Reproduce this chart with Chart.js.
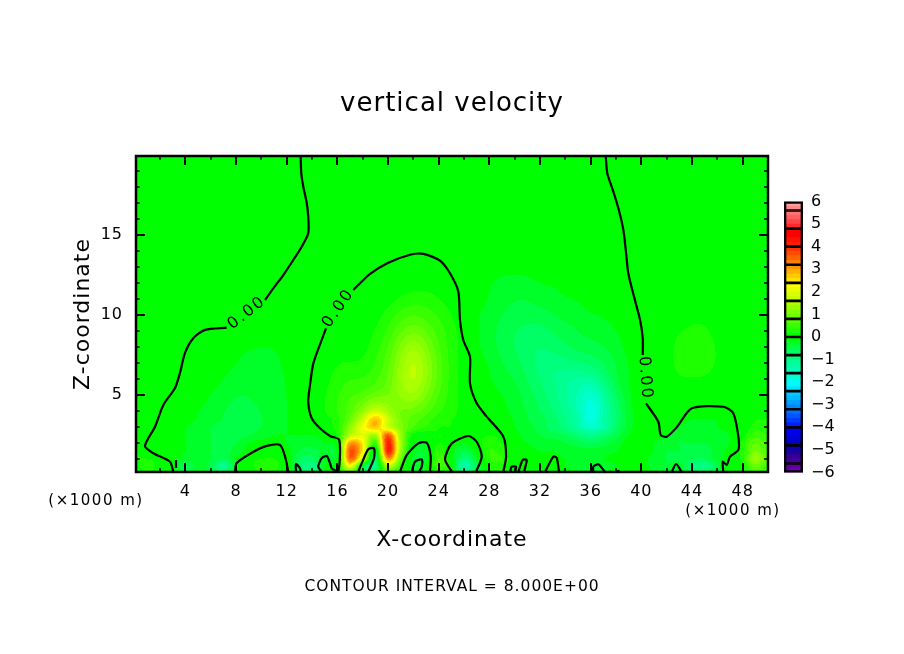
<!DOCTYPE html>
<html>
<head>
<meta charset="utf-8">
<style>
html,body{margin:0;padding:0;background:#fff}
#wrap{position:relative;width:904px;height:654px;overflow:hidden}
#main{position:absolute;left:0;top:0}
#bar{position:absolute;left:784px;top:190px}
</style>
<script src="https://cdn.jsdelivr.net/npm/chart.js@4"></script>
</head>
<body>
<div id="wrap"><canvas id="main" width="904" height="654"></canvas><canvas id="bar" width="60" height="290"></canvas></div>
<script>
// ---------- axes ----------
const xTickValues = [2,4,6,8,10,12,14,16,18,20,22,24,26,28,30,32,34,36,38,40,42,44,46,48];
const zTickValues = [1,2,3,4,5,6,7,8,9,10,11,12,13,14,15,16,17,18,19];
const barTickValues = [-6,-5,-4,-3,-2,-1,0,1,2,3,4,5,6];
const xColumns = [0,1,2,3,4,5,6,7,8,9,10,11,12,13,14,15,16,17,18,19,20,21,22,23,24,25,26,27,28,29,30,31,32,33,34,35,36,37,38,39,40,41,42,43,44,45,46,47,48,49,50];
const zRows = [0.2,0.6,1,1.5,2,2.5,3,3.5,4,5,6,7,8,9,10,11,12,13,20];

// ---------- field values (x = 0..50 per row) ----------
const w_z0_2 = [1,2,1,-1,-5,-2,-4,-8,-2,1, 2,2,0,-5,-7,-1,0,10,-5,-7, 7,2,-2,-2,3,0,-10,-3,2,2, -1,0,-1,-1,-1,-2,-2,-2,-1,-1, -1,-2,-3,-3,-6,-7,-3,0,2,6,3];
const w_z0_6 = [1,3,1,-1,-6,-3,-5,-11,-3,1, 3,3,0,-7,-10,-2,0,22,-2,-9, 16,5,-3,-2,6,1,-14,-5,2,3, -1,0,-2,-1,-2,-3,-3,-3,-2,-1, -1,-3,-4,-3,-8,-10,-5,0,2,9,5];
const w_z1_0 = [2,2,1,-1,-3,-3,-4,-6,-2,1, 2,2,0,-6,-7,-2,-1,34,16,-7, 30,9,-3,-3,6,0,-9,-3,4,4, 0,0,-1,-1,-2,-2,-2,-2,-1,-1, -1,-3,-4,-5,-6,-6,-3,-1,3,13,7];
const w_z1_5 = [2,1,0,-1,-2,-3,-4,-5,-3,-1, 1,1,-1,-4,-5,-3,-1,36,24,-3, 41,13,-2,-3,4,-1,-5,-1,4,3, 0,-1,-2,-2,-3,-3,-3,-3,-2,-1, -1,-2,-4,-4,-5,-5,-3,-1,3,10,6];
const w_z2_0 = [1,0,0,-1,-2,-3,-4,-5,-4,-2, -1,-1,-2,-3,-3,-2,1,30,24,5, 41,14,-1,-2,2,0,-2,1,3,2, -1,-2,-3,-3,-4,-5,-6,-5,-3,-1, 0,-2,-3,-4,-4,-4,-3,-2,3,8,5];
const w_z2_5 = [0,0,0,-1,-2,-3,-4,-5,-5,-4, -3,-2,-2,-2,-2,-1,2,16,20,14, 36,13,1,0,2,1,0,1,2,1, -1,-3,-4,-5,-6,-8,-10,-8,-5,-2, 0,-1,-2,-3,-3,-3,-3,-2,1,5,4];
const w_z3_0 = [0,0,0,-1,-2,-3,-4,-5,-5,-5, -4,-3,-2,-1,-1,1,3,12,22,28, 18,11,6,4,2,2,1,0,0,-1, -2,-3,-5,-7,-9,-13,-17,-14,-7,-3, 0,0,-1,-2,-3,-3,-2,-1,0,3,3];
const w_z3_5 = [0,0,0,-1,-1,-2,-3,-4,-5,-5, -4,-3,-2,-1,0,1,3,8,18,30, 18,10,7,5,3,2,1,0,0,-1, -2,-4,-5,-7,-10,-13,-20,-13,-8,-3, 0,0,0,-1,-2,-2,-2,-1,0,2,2];
const w_z4_0 = [0,0,0,0,-1,-2,-3,-4,-5,-5, -4,-3,-2,-1,0,2,4,7,12,20, 14,9,9,7,4,3,1,0,0,-1, -3,-4,-6,-8,-11,-14,-22,-14,-8,-3, 0,0,0,0,-1,-1,-1,0,0,1,1];
const w_z5_0 = [0,0,0,0,0,-1,-2,-3,-4,-4, -3,-3,-2,-1,0,2,4,6,6,8, 9,13,15,10,6,3,1,0,-1,-2, -3,-5,-7,-9,-12,-14,-20,-13,-6,-2, 0,0,0,0,0,0,0,0,0,0,0];
const w_z6_0 = [0,0,0,0,0,0,-1,-2,-3,-3, -3,-3,-2,0,0,1,3,4,4,5, 8,14,18,13,7,3,1,0,-2,-3, -4,-6,-8,-10,-12,-13,-13,-8,-4,-2, 0,0,1,2,2,2,1,0,0,0,0];
const w_z7_0 = [0,0,0,0,0,0,0,-1,-2,-3, -3,-3,-1,0,0,1,2,2,2,4, 7,13,18,13,7,3,1,-1,-2,-4, -5,-7,-9,-10,-9,-8,-7,-6,-4,-2, 0,0,1,3,3,3,2,0,0,0,0];
const w_z8_0 = [0,0,0,0,0,0,0,0,-1,-2, -2,-2,-1,0,0,0,1,1,1,3, 6,11,15,11,6,3,1,-2,-3,-5, -6,-8,-8,-7,-6,-5,-5,-4,-3,-1, 0,0,1,3,3,3,2,0,0,0,0];
const w_z9_0 = [0,0,0,0,0,0,0,0,0,0, -1,-1,0,0,0,0,0,0,1,2, 4,8,10,8,5,3,1,-2,-3,-5, -6,-7,-7,-6,-5,-4,-3,-3,-2,-1, 0,0,1,2,3,3,1,0,0,0,0];
const w_z10 = [0,0,0,0,0,0,0,0,0,0, 0,0,0,0,0,0,0,0,0,1, 3,5,6,5,4,2,0,-2,-3,-4, -5,-5,-5,-4,-3,-3,-2,-2,-1,-1, 0,0,0,0,1,1,0,0,0,0,0];
const w_z11 = [0,0,0,0,0,0,0,0,0,0, 0,0,0,0,0,0,0,0,0,0, 1,2,3,3,2,1,0,-1,-2,-3, -4,-4,-3,-3,-2,-2,-1,-1,0,0, 0,0,0,0,0,0,0,0,0,0,0];
const w_z12 = [0,0,0,0,0,0,0,0,0,0, 0,0,0,0,0,0,0,0,0,0, 0,1,1,1,1,0,0,0,-2,-3, -3,-3,-2,-2,-1,-1,0,0,0,0, 0,0,0,0,0,0,0,0,0,0,0];
const w_z13 = [0,0,0,0,0,0,0,0,0,0, 0,0,0,0,0,0,0,0,0,0, 0,0,0,0,0,0,0,0,-1,-1, -1,-1,0,0,0,0,0,0,0,0, 0,0,0,0,0,0,0,0,0,0,0];
const w_z20 = [0,0,0,0,0,0,0,0,0,0, 0,0,0,0,0,0,0,0,0,0, 0,0,0,0,0,0,0,0,0,0, 0,0,0,0,0,0,0,0,0,0, 0,0,0,0,0,0,0,0,0,0,0];
const fieldRows = [w_z0_2,w_z0_6,w_z1_0,w_z1_5,w_z2_0,w_z2_5,w_z3_0,w_z3_5,w_z4_0,w_z5_0,w_z6_0,w_z7_0,w_z8_0,w_z9_0,w_z10,w_z11,w_z12,w_z13,w_z20];

// ---------- zero contour: [x, z] ----------
const cTopLeft = [[13.1,19.95],[13.15,18.87],[13.31,18.03],[13.58,17.01],[13.7,16.16],[13.7,15.12],[13.18,14.28],[12.52,13.45],[11.73,12.51],[10.94,11.68],[10.29,10.95]];
const cLeft = [[7.26,9.22],[5.55,9.08],[4.62,8.56],[3.97,7.64],[3.57,6.39],[3.18,5.45],[2.26,4.39],[1.6,3.03],[0.81,1.83],[1.47,1.37],[2.78,0.84],[3.05,0.2]];
const cStub = [[3.26,0.95],[3.26,0.45]];
const cBump8 = [[7.92,0.2],[8.05,0.76],[9.34,1.45],[10.42,1.83],[11.47,1.89],[11.87,1.16],[12.13,0.2]];
const cLoop13 = [[12.73,0.2],[12.73,0.7],[13.05,0.43],[13.1,0.2]];
const cArchLow = [[14.76,0.2],[14.49,0.53],[14.76,1.06],[15.16,1.2],[15.42,0.76],[15.55,0.43],[16.07,0.22],[16.15,2.2],[15.42,2.45],[14.63,2.93],[13.97,3.56],[13.7,4.59],[13.84,5.64],[14.1,6.99],[14.76,8.45],[15.1,9.18]];
const cArchHigh = [[17.26,11.58],[18.58,12.58],[20.02,13.28],[21.74,13.78],[22.79,13.83],[24.1,13.41],[24.89,12.62],[25.55,11.47],[25.68,9.7],[25.94,8.45],[26.47,7.41],[26.47,5.74],[27.0,4.49],[27.79,3.66],[29.1,2.41],[29.32,1.16],[29.1,0.22]];
const cLoop18 = [[17.65,0.22],[17.92,0.74],[18.44,1.62],[18.89,1.68],[18.89,1.06],[18.44,0.22]];
const cLoop22 = [[20.95,0.22],[21.47,1.26],[22.39,1.99],[23.05,2.03],[23.37,1.16],[23.31,0.22]];
const cLoop22In = [[21.87,0.22],[22.13,0.84],[22.66,0.99],[22.66,0.53],[22.45,0.22]];
const cLoop26 = [[25.03,0.22],[24.5,0.99],[25.03,1.99],[26.34,2.45],[27.0,2.09],[27.4,1.16],[26.95,0.22]];
const cLoop29 = [[29.63,0.22],[29.76,0.53],[30.1,0.53],[30.03,0.22]];
const cLoop30 = [[30.29,0.22],[30.63,0.95],[30.95,0.95],[30.74,0.22]];
const cLoop33 = [[32.39,0.2],[33.05,1.16],[33.32,1.08],[33.5,0.2]];
const cLoop37 = [[36.21,0.2],[36.21,0.53],[36.6,0.68],[37.13,0.2]];
const cDot38 = [[38.18,0.33],[38.18,0.2]];
const cLoop42 = [[42.4,0.2],[42.74,0.7],[43.19,0.2]];
const cRightTop = [[37.19,19.95],[37.31,18.87],[37.79,17.72],[38.26,16.47],[38.58,15.33],[38.77,14.08],[38.97,12.62],[39.42,11.16],[39.9,9.7],[40.11,8.56],[40.11,7.51]];
const cRightLow = [[40.37,4.49],[41.34,3.34],[41.53,2.51],[42,2.41],[42.79,2.99],[43.98,4.18],[46.47,4.28],[47.26,3.87],[47.66,2.41],[47.66,1.58],[47,1.16],[46.74,0.64],[46.43,0.84],[46.47,0.2]];
const contours = [cTopLeft,cLeft,cStub,cBump8,cLoop13,cArchLow,cArchHigh,cLoop18,cLoop22,cLoop22In,cLoop26,cLoop29,cLoop30,cLoop33,cLoop37,cDot38,cLoop42,cRightTop,cRightLow];

// ---------- colour bands, each 2 field units wide, from -60 up to +60 ----------
const bandColors = [
 [112,0,170],[92,0,160],[70,0,150],[50,0,150],[30,0,160],[15,0,175],[0,0,190],[0,0,215],[0,0,235],[0,0,255],
 [0,30,255],[0,60,255],[0,85,255],[0,110,255],[0,135,255],[0,160,255],[0,185,255],[0,205,255],[0,230,255],[0,250,255],
 [0,255,225],[0,255,205],[0,255,185],[0,255,165],[0,255,145],[0,255,125],[0,255,100],[0,255,70],[0,255,40],[0,255,0],
 [0,255,0],[30,255,0],[55,255,0],[80,255,0],[105,255,0],[130,255,0],[150,255,0],[170,255,0],[195,255,0],[215,255,0],
 [235,255,0],[255,255,0],[255,225,0],[255,200,0],[255,175,0],[255,150,0],[255,125,0],[255,100,0],[255,75,0],[255,50,0],
 [255,30,0],[255,15,0],[255,0,0],[255,0,0],[255,40,40],[255,70,70],[255,95,95],[255,115,115],[255,135,135],[255,160,160]
];
const barFrameEdges = [-6,-5.6,-4.8,-4,-3.2,-2.4,-1.6,-0.8,0,0.8,1.6,2.4,3.2,4,4.8,5.6,6];

const FONT = '"DejaVu Sans"';
const cr = (a,b,c,d,t)=>0.5*((2*b)+(-a+c)*t+(2*a-5*b+4*c-d)*t*t+(-a+3*b-3*c+d)*t*t*t);
const bs = (a,b,c,d,t)=>{const u=1-t;return (u*u*u*a+(3*t*t*t-6*t*t+4)*b+(-3*t*t*t+3*t*t+3*t+1)*c+t*t*t*d)/6;};

function rowPos(z){
  for(let i=0;i<zRows.length-1;i++){ if(z<=zRows[i+1]) return i+Math.max(0,(z-zRows[i]))/(zRows[i+1]-zRows[i]); }
  return zRows.length-1;
}

const fieldPlugin = {
  id:'field',
  beforeDraw(chart){ chart.ctx.letterSpacing='1px'; },
  beforeDatasetsDraw(chart){
    const {ctx,chartArea:a,scales:{x,y}} = chart;
    const W=Math.round(a.right-a.left), H=Math.round(a.bottom-a.top);
    const off=document.createElement('canvas'); off.width=W; off.height=H;
    const oc=off.getContext('2d'), im=oc.createImageData(W,H);
    const nR=fieldRows.length, nC=xColumns.length;
    for(let j=0;j<H;j++){
      const z=y.getValueForPixel(a.top+j+0.5);
      const rp=rowPos(z);
      const w=Math.max(0,Math.min(1,(z-2.5)/2));
      const r=Math.min(Math.floor(rp),nR-2), tr=rp-r;
      const r0=fieldRows[Math.max(r-1,0)],r1=fieldRows[r],r2=fieldRows[r+1],r3=fieldRows[Math.min(r+2,nR-1)];
      for(let i=0;i<W;i++){
        const cp=Math.min(Math.max(x.getValueForPixel(a.left+i+0.5),0),49.999);
        const c=Math.floor(cp), tc=cp-c;
        const c0=Math.max(c-1,0),c1=c,c2=c+1,c3=Math.min(c+2,nC-1);
        const atC=k=>cr(r0[k],r1[k],r2[k],r3[k],tr);
        const atB=k=>bs(r0[k],r1[k],r2[k],r3[k],tr);
        const vC=w<1?cr(atC(c0),atC(c1),atC(c2),atC(c3),tc):0;
        const vB=w>0?bs(atB(c0),atB(c1),atB(c2),atB(c3),tc):0;
        const v=(1-w)*vC+w*vB;
        const b=Math.max(0,Math.min(59,Math.floor((v+60)/2)));
        const col=bandColors[b], p=(j*W+i)*4;
        im.data[p]=col[0];im.data[p+1]=col[1];im.data[p+2]=col[2];im.data[p+3]=255;
      }
    }
    oc.putImageData(im,0,0);
    ctx.drawImage(off,a.left,a.top);
  },
  afterDatasetsDraw(chart){
    const {ctx,chartArea:a,scales:{x,y}} = chart;
    ctx.save();
    ctx.strokeStyle='#000';
    ctx.lineCap='butt';
    xTickValues.forEach(v=>{
      const major=v%4===0, len=major?9:4, px=Math.round(x.getPixelForValue(v));
      ctx.lineWidth=major?2:1.5;
      ctx.beginPath();ctx.moveTo(px,a.bottom);ctx.lineTo(px,a.bottom-len);
      ctx.moveTo(px,a.top);ctx.lineTo(px,a.top+len);ctx.stroke();
    });
    zTickValues.forEach(v=>{
      const major=v%5===0, len=major?9:4, py=Math.round(y.getPixelForValue(v));
      ctx.lineWidth=major?2:1.5;
      ctx.beginPath();ctx.moveTo(a.left,py);ctx.lineTo(a.left+len,py);
      ctx.moveTo(a.right,py);ctx.lineTo(a.right-len,py);ctx.stroke();
    });
    ctx.lineWidth=2.5;
    ctx.strokeRect(a.left,a.top,a.right-a.left,a.bottom-a.top);
    // contour labels
    ctx.fillStyle='#000';ctx.textAlign='center';ctx.textBaseline='middle';
    ctx.font='16px '+FONT;
    ctx.letterSpacing='2px';
    [[8.86,10.14,-38],[16.07,10.43,-55],[40.3,6.07,86]].forEach(([lx,lz,ang])=>{
      ctx.save();
      ctx.translate(x.getPixelForValue(lx),y.getPixelForValue(lz));
      ctx.rotate(ang*Math.PI/180);
      ctx.fillText('0.00',0,0);
      ctx.restore();
    });
    ctx.letterSpacing='1.5px';
    ctx.font='15px '+FONT;
    ctx.fillText('(×1000 m)',96,501);
    ctx.fillText('(×1000 m)',733,511);
    ctx.restore();
  }
};

new Chart(document.getElementById('main'),{
  type:'scatter',
  data:{datasets:contours.map((c,i)=>({
    label:'zero contour '+(i+1),
    data:c.map(p=>({x:p[0],y:p[1]})),
    showLine:true,borderColor:'#000',borderWidth:2.2,pointRadius:0,tension:0.25,fill:false
  }))},
  options:{
    responsive:false,animation:false,devicePixelRatio:1,
    layout:{padding:0},
    plugins:{
      legend:{display:false},tooltip:{enabled:false},
      title:{display:true,text:'vertical velocity',color:'#000',font:{family:FONT,size:26,weight:'normal',lineHeight:1.2},padding:{top:88.4,bottom:36.4}},
      subtitle:{display:true,position:'bottom',text:'CONTOUR INTERVAL = 8.000E+00',color:'#000',font:{family:FONT,size:15.5,weight:'normal',lineHeight:1.2},padding:{top:0,bottom:57.7}}
    },
    scales:{
      x:{type:'linear',position:'bottom',min:0.1,max:50,
        afterBuildTicks:s=>{s.ticks=xTickValues.map(v=>({value:v}));},
        afterFit:s=>{s.height=105.7;},
        grid:{display:false,drawTicks:false},border:{display:false},
        ticks:{color:'#000',font:{family:FONT,size:16},padding:10,autoSkip:false,maxRotation:0,callback:v=>v%4===0?String(v):''},
        title:{display:true,text:'X-coordinate',color:'#000',font:{family:FONT,size:22,weight:'normal',lineHeight:1.2},padding:{top:0,bottom:24.5}}
      },
      y:{type:'linear',position:'left',min:0.2,max:19.95,
        afterBuildTicks:s=>{s.ticks=zTickValues.map(v=>({value:v}));},
        afterFit:s=>{s.width=136;},
        grid:{display:false,drawTicks:false},border:{display:false},
        ticks:{color:'#000',font:{family:FONT,size:16},padding:13,autoSkip:false,callback:v=>v%5===0?String(v):''},
        title:{display:true,text:'Z-coordinate',color:'#000',font:{family:FONT,size:22,weight:'normal',lineHeight:1.2},padding:{top:69.8,bottom:0}}
      },
      yRight:{type:'linear',position:'right',min:0.2,max:19.95,
        afterFit:s=>{s.width=136;},
        grid:{display:false,drawTicks:false},border:{display:false},
        ticks:{display:false}
      }
    }
  },
  plugins:[fieldPlugin]
});

// ---------- colour bar ----------
const bandSets = bandColors.map((c,i)=>({
  label:'band '+i,data:[[(-60+2*i)/10,(-60+2*i+2)/10]],
  backgroundColor:`rgb(${c[0]},${c[1]},${c[2]})`,borderWidth:0,grouped:false,order:3,
  categoryPercentage:1,barPercentage:1
}));
const frameSets = barFrameEdges.slice(0,-1).map((e,i)=>({
  label:'box '+i,data:[[e,barFrameEdges[i+1]]],
  backgroundColor:'rgba(0,0,0,0)',borderColor:'#000',borderWidth:1,borderSkipped:false,grouped:false,order:2,
  categoryPercentage:1,barPercentage:1
}));
const outerSet = {label:'outline',data:[[-6,6]],backgroundColor:'rgba(0,0,0,0)',borderColor:'#000',borderWidth:2,borderSkipped:false,grouped:false,order:1,categoryPercentage:1,barPercentage:1};
new Chart(document.getElementById('bar'),{
  type:'bar',
  data:{labels:['w'],datasets:[...bandSets,...frameSets,outerSet]},
  options:{
    responsive:false,animation:false,devicePixelRatio:1,
    layout:{padding:{top:11.5,bottom:7.5,left:0,right:0}},
    plugins:{legend:{display:false},tooltip:{enabled:false},title:{display:false}},
    scales:{
      x:{display:false},
      y:{position:'right',min:-6,max:6,
        afterBuildTicks:s=>{s.ticks=barTickValues.map(v=>({value:v}));},
        afterFit:s=>{s.width=41;s.paddingTop=0;s.paddingBottom=0;},
        grid:{display:false,drawTicks:false},border:{display:false},
        ticks:{color:'#000',font:{family:FONT,size:16},padding:8,autoSkip:false,callback:v=>v<0?'\u2212'+Math.abs(v):String(v)}
      }
    }
  }
});
</script>
</body>
</html>
